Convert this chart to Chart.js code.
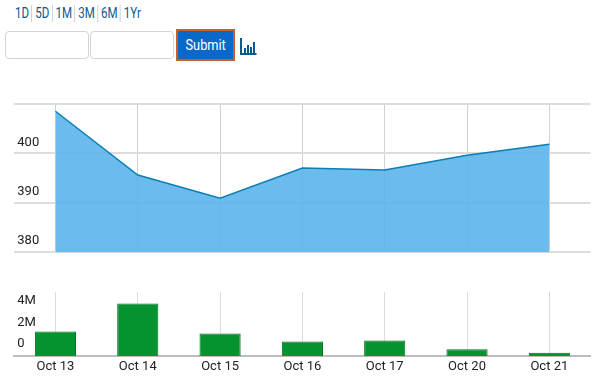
<!DOCTYPE html>
<html>
<head>
<meta charset="utf-8">
<script src="https://cdn.jsdelivr.net/npm/chart.js@4"></script>
<style>
  body { margin: 0; background: #fff; width: 600px; height: 388px; overflow: hidden; position: relative; font-family: Roboto, sans-serif; }
  #ranges { position: absolute; left: 15px; top: 5px; font-size: 15px; line-height: 17px; color: #0b5a8a; white-space: nowrap; transform: scaleX(0.77); transform-origin: left top; }
  #ranges span { display: inline-block; padding-right: 3px; margin-right: 4px; border-right: 1px solid #c4c4c4; }
  #ranges span:last-child { border: 0; }
  .box { position: absolute; top: 31px; height: 26px; border: 1px solid #d4d4d4; border-radius: 4px; background: #fff; }
  #submit { position: absolute; left: 176px; top: 29px; width: 55px; height: 28px; border: 2px solid #c8602a; background: #0a69c8; color: #fff; line-height: 27px; text-align: center; }
  #submit span { display: inline-block; font-size: 15px; transform: scaleX(0.85); }
  #icon { position: absolute; left: 240px; top: 37px; }
  canvas { position: absolute; left: 0; }
</style>
</head>
<body>
<div id="ranges"></div>
<div class="box" style="left:5px;width:82px"></div>
<div class="box" style="left:90px;width:82px"></div>
<div id="submit"><span>Submit</span></div>
<svg id="icon" width="17" height="19" viewBox="0 0 17 19">
  <path d="M1 1V17H16.500" fill="none" stroke="#0b5a8a" stroke-width="2"/>
  <path d="M4 11h2v5H4zM7 8h2v8H7zM10 10h2v6h-2zM13 5h2v11h-2z" fill="#0b5a8a"/>
</svg>
<canvas id="priceChart" width="600" height="170" style="top:93px"></canvas>
<canvas id="volumeChart" width="600" height="97" style="top:281px"></canvas>
<script>
const rangeLabels = ['1D', '5D', '1M', '3M', '6M', '1Yr'];
const categories = ['Oct 13', 'Oct 14', 'Oct 15', 'Oct 16', 'Oct 17', 'Oct 20', 'Oct 21'];
const priceValues = [408.5, 395.6, 390.9, 397, 396.6, 399.6, 401.8];
const volumeValues = [2.3, 4.9, 2.1, 1.35, 1.45, 0.63, 0.3];
const priceTicks = [380, 390, 400, 410];
const volumeTicks = [0, 2, 4, 6];

document.getElementById('ranges').innerHTML = rangeLabels.map(r => '<span>' + r + '</span>').join('');

const tickFont = { family: 'Roboto, sans-serif', size: 13 };

// squeeze the tick text, the reference uses a narrow face
const narrowText = {
  id: 'narrowText',
  beforeInit(chart) {
    chart.ctx.fontStretch = 'condensed';
    chart.ctx.letterSpacing = '-0.4px';
  }
};

new Chart(document.getElementById('priceChart'), {
  type: 'line',
  plugins: [narrowText],
  data: {
    labels: categories,
    datasets: [{
      data: priceValues,
      borderColor: '#0a7fb5',
      borderWidth: 1.5,
      backgroundColor: 'rgba(88,178,234,0.88)',
      fill: 'start',
      pointRadius: 0,
      tension: 0
    }]
  },
  options: {
    responsive: false,
    animation: false,
    layout: { padding: { left: 14.3, right: 9.5, top: 9, bottom: 9 } },
    plugins: { legend: { display: false }, tooltip: { enabled: false } },
    scales: {
      x: {
        display: true,
        offset: true,
        grid: { offset: false, color: '#d2d2d2', drawTicks: false },
        border: { display: false },
        ticks: { display: false },
        afterFit: (s) => { s.height = 0; }
      },
      y: {
        min: 380,
        max: 410,
        afterBuildTicks: (s) => { s.ticks = priceTicks.map(v => ({ value: v })); },
        grid: { color: '#dcdcdc', lineWidth: 2, drawTicks: false },
        border: { display: false },
        ticks: {
          mirror: true,
          padding: 3,
          labelOffset: -11,
          color: '#222',
          font: tickFont,
          callback: (v) => v === 410 ? '' : v
        },
        afterFit: (s) => { s.width = 0; }
      }
    }
  }
});

new Chart(document.getElementById('volumeChart'), {
  type: 'bar',
  plugins: [narrowText],
  data: {
    labels: categories,
    datasets: [{
      data: volumeValues,
      backgroundColor: '#05932f',
      borderColor: '#046c24',
      borderWidth: 1,
      barPercentage: 0.5,
      categoryPercentage: 1
    }]
  },
  options: {
    responsive: false,
    animation: false,
    layout: { padding: { left: 14.3, right: 9.5, top: 10, bottom: 0 } },
    plugins: { legend: { display: false }, tooltip: { enabled: false } },
    scales: {
      x: {
        grid: { offset: false, color: '#dcdcdc', drawTicks: false },
        border: { color: '#bdbdbd', width: 2 },
        ticks: { color: '#222', font: tickFont, padding: 3, maxRotation: 0, autoSkip: false },
        afterFit: (s) => { s.height = 22; }
      },
      y: {
        min: 0,
        max: 6,
        afterBuildTicks: (s) => { s.ticks = volumeTicks.map(v => ({ value: v })); },
        grid: { display: false },
        border: { display: false },
        ticks: {
          mirror: true,
          padding: 3,
          labelOffset: -12,
          color: '#222',
          font: tickFont,
          callback: (v) => v === 6 ? '' : (v === 0 ? '0' : v + 'M')
        },
        afterFit: (s) => { s.width = 0; }
      }
    }
  }
});
</script>
</body>
</html>
